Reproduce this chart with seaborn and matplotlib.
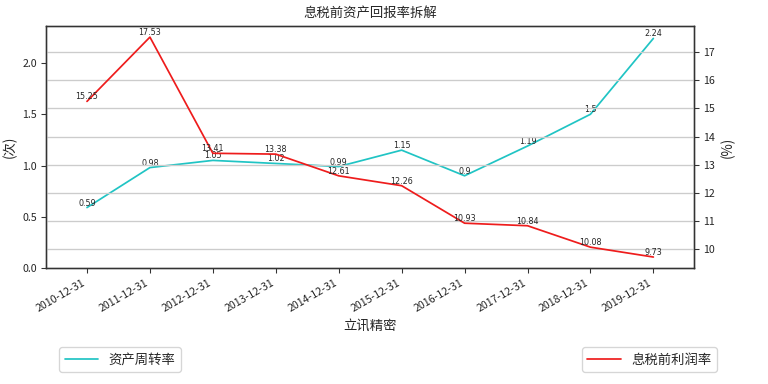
import matplotlib
matplotlib.use("Agg")
import matplotlib.pyplot as plt
import seaborn as sns
import pandas as pd

dates = ["2010-12-31", "2011-12-31", "2012-12-31", "2013-12-31", "2014-12-31",
         "2015-12-31", "2016-12-31", "2017-12-31", "2018-12-31", "2019-12-31"]
turnover = [0.59, 0.98, 1.05, 1.02, 0.99, 1.15, 0.9, 1.19, 1.5, 2.24]
ebit_margin = [15.25, 17.53, 13.41, 13.38, 12.61, 12.26, 10.93, 10.84, 10.08, 9.73]

sns.set_theme(style="white")
plt.rcParams['font.family'] = ['Noto Sans CJK SC', 'DejaVu Sans']
plt.rcParams['axes.unicode_minus'] = False

df = pd.DataFrame({"date": dates, "turnover": turnover, "margin": ebit_margin})

fig = plt.figure(figsize=(8, 4), dpi=96)
ax = fig.add_axes([0.06, 0.302, 0.844, 0.63])
ax2 = ax.twinx()

sns.lineplot(data=df, x="date", y="turnover", ax=ax, color="#20c4c4", lw=1.3,
             label="资产周转率", legend=False)
sns.lineplot(data=df, x="date", y="margin", ax=ax2, color="#ee1c1c", lw=1.3,
             label="息税前利润率", legend=False)

for i, v in enumerate(turnover):
    ax.text(i, v, f"{v:g}", ha="center", va="bottom", fontsize=6, family="DejaVu Sans")
for i, v in enumerate(ebit_margin):
    ax2.text(i, v, f"{v:g}", ha="center", va="bottom", fontsize=6, family="DejaVu Sans")

ax.set_xlim(-0.65, 9.65)
ax.set_ylim(0, 2.36)
ax2.grid(True, axis="y", color="#cccccc", lw=1)
ax.grid(False)

for a in (ax, ax2):
    for s in a.spines.values():
        s.set_color("#333333")
        s.set_linewidth(1)
    a.tick_params(axis="both", which="major", length=3.5, width=0.8, color="#333333",
                  labelsize=8, bottom=True, left=(a is ax), right=(a is ax2))

ax.set_xticks(range(len(dates)))
ax.set_xticklabels(dates, rotation=30, ha="right", fontsize=8)
ax.set_xlabel("立讯精密", fontsize=10)
ax.set_ylabel("(次)", fontsize=10)
ax2.set_ylabel("(%)", fontsize=10)
ax.set_title("息税前资产回报率拆解", fontsize=10)

ax.legend(loc="upper left", bbox_to_anchor=(0.01, -0.3), fontsize=10, frameon=True,
          handlelength=2.5)
ax2.legend(loc="upper right", bbox_to_anchor=(1.045, -0.3), fontsize=10, frameon=True,
           handlelength=2.5)

fig.savefig("out.png", dpi=96)
